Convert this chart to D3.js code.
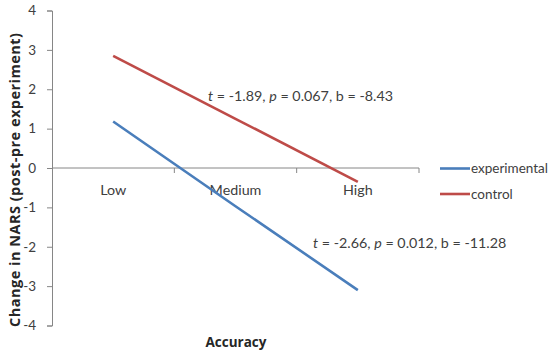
<!DOCTYPE html>
<html>
<head>
<meta charset="utf-8">
<title>Change in NARS by Accuracy</title>
<script src="https://d3js.org/d3.v7.min.js"></script>
<style>
  body { margin: 0; background: #fff; }
  text { font-family: Lato, "Open Sans", sans-serif; fill: #404040; }
</style>
</head>
<body>
<script>
// data
const categories = ["Low", "Medium", "High"];
const seriesNames = ["experimental", "control"];
const experimental = [1.18, -0.97, -3.1];
const control = [2.85, 1.25, -0.35];
const yTicks = [-4, -3, -2, -1, 0, 1, 2, 3, 4];
const notes = [
  {t: "-1.89", p: "0.067", b: "-8.43"},
  {t: "-2.66", p: "0.012", b: "-11.28"}
];

const colors = {experimental: "#4a7ebb", control: "#be4b48"};
const W = 550, H = 353;
const m = {top: 10.5, left: 52, right: 131, bottom: 27.5};

const svg = d3.select("body").append("svg")
  .attr("width", W).attr("height", H);

const x = d3.scaleBand().domain(categories).range([m.left, W - m.right]);
const y = d3.scaleLinear().domain([-4, 4]).range([H - m.bottom, m.top]);

// y axis (plain hyphen for negatives, like the original)
const yAxis = svg.append("g")
  .attr("transform", "translate(" + m.left + ",0)")
  .call(d3.axisLeft(y).tickValues(yTicks).tickSize(5).tickPadding(11).tickFormat(d => String(d)));
yAxis.selectAll("path, line").attr("stroke", "#868686");
yAxis.selectAll("text").style("font-size", "13.5px").attr("fill", "#404040");

// x axis through zero, tick marks at band edges
const xAxis = svg.append("g").attr("transform", "translate(0," + y(0) + ")");
xAxis.append("line")
  .attr("x1", m.left).attr("x2", W - m.right)
  .attr("stroke", "#868686");
categories.forEach(c => {
  const xe = x(c) + x.bandwidth();
  xAxis.append("line").attr("x1", xe).attr("x2", xe).attr("y1", 0).attr("y2", 5)
    .attr("stroke", "#868686");
  xAxis.append("text").attr("x", x(c) + x.bandwidth() / 2).attr("y", 27)
    .attr("text-anchor", "middle").style("font-size", "14.3px").text(c);
});

// lines
const line = d3.line().x((d, i) => x(categories[i]) + x.bandwidth() / 2).y(d => y(d));
[["experimental", experimental], ["control", control]].forEach(([name, vals]) => {
  svg.append("path").datum(vals)
    .attr("d", line).attr("fill", "none")
    .attr("stroke", colors[name]).attr("stroke-width", 2.6);
});

// annotations
function note(n, xp, yp) {
  const t = svg.append("text").attr("x", xp).attr("y", yp).style("font-size", "14.3px");
  t.append("tspan").attr("font-style", "italic").text("t");
  t.append("tspan").text(" = " + n.t + ", ");
  t.append("tspan").attr("font-style", "italic").text("p");
  t.append("tspan").text(" = " + n.p + ", b = " + n.b);
}
note(notes[0], 208, 101);
note(notes[1], 313, 248);

// legend
seriesNames.forEach((name, i) => {
  const ly = 168.5 + i * 25.5;
  svg.append("line").attr("x1", 440).attr("x2", 470).attr("y1", ly).attr("y2", ly)
    .attr("stroke", colors[name]).attr("stroke-width", 2.6);
  svg.append("text").attr("x", 471).attr("y", ly + 4.5).style("font-size", "13.5px").text(name);
});

// axis titles
svg.append("text")
  .attr("transform", "translate(20," + 180 + ") rotate(-90)")
  .attr("text-anchor", "middle").style("font-size", "14.5px").attr("font-weight", "bold")
  .attr("textLength", 294).attr("lengthAdjust", "spacing")
  .style("font-family", "'Open Sans', sans-serif").style("fill", "#262626")
  .text("Change in NARS (post-pre experiment)");
svg.append("text")
  .attr("x", 236).attr("y", 347)
  .attr("text-anchor", "middle").style("font-size", "13.5px").attr("font-weight", "bold")
  .style("font-family", "'Open Sans', sans-serif").style("fill", "#262626")
  .text("Accuracy");
</script>
</body>
</html>
